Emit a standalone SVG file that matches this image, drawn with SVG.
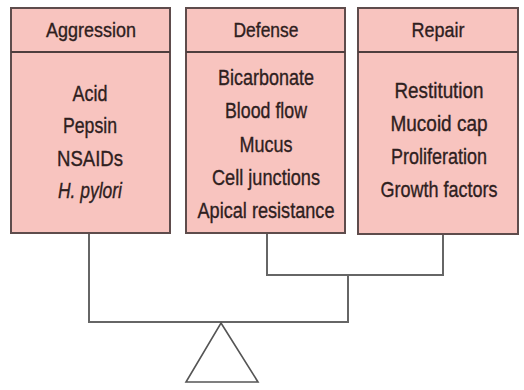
<svg xmlns="http://www.w3.org/2000/svg" width="524" height="390" viewBox="0 0 524 390">
<style>
.box{fill:#f8c4bf;stroke:#5e4c4c;stroke-width:2}
.div{stroke:#4e3e3e;stroke-width:2}
text{font-family:"Liberation Sans Narrow","Liberation Sans",Arial,sans-serif;fill:#2e2020;stroke:#2e2020;stroke-width:0.35;text-anchor:middle}
.h{font-size:21px}
.b{font-size:22px}
.conn{fill:none;stroke:#666;stroke-width:2}
.tri{fill:#fff;stroke:#555;stroke-width:1.6}
</style>
<rect width="524" height="390" fill="#fff"/>
<g id="aggression">
<rect class="box" x="11" y="8" width="159" height="225"/>
<line class="div" x1="11" y1="52" x2="170" y2="52"/>
<text class="h" x="91" y="37" textLength="90" lengthAdjust="spacingAndGlyphs">Aggression</text>
<text class="b" x="90" y="101" textLength="35" lengthAdjust="spacingAndGlyphs">Acid</text>
<text class="b" x="90" y="133" textLength="54" lengthAdjust="spacingAndGlyphs">Pepsin</text>
<text class="b" x="90" y="166" textLength="66" lengthAdjust="spacingAndGlyphs">NSAIDs</text>
<text class="b" x="90" y="198" textLength="64" lengthAdjust="spacingAndGlyphs" font-style="italic">H. pylori</text>
</g>
<g id="defense">
<rect class="box" x="186" y="8" width="159" height="225"/>
<line class="div" x1="186" y1="52" x2="345" y2="52"/>
<text class="h" x="266" y="37" textLength="65" lengthAdjust="spacingAndGlyphs">Defense</text>
<text class="b" x="266" y="85" textLength="96" lengthAdjust="spacingAndGlyphs">Bicarbonate</text>
<text class="b" x="266" y="118" textLength="82" lengthAdjust="spacingAndGlyphs">Blood flow</text>
<text class="b" x="266" y="152" textLength="53" lengthAdjust="spacingAndGlyphs">Mucus</text>
<text class="b" x="266" y="185" textLength="108" lengthAdjust="spacingAndGlyphs">Cell junctions</text>
<text class="b" x="266" y="218" textLength="137" lengthAdjust="spacingAndGlyphs">Apical resistance</text>
</g>
<g id="repair">
<rect class="box" x="358" y="8" width="160" height="226"/>
<line class="div" x1="358" y1="52" x2="518" y2="52"/>
<text class="h" x="438" y="37" textLength="53" lengthAdjust="spacingAndGlyphs">Repair</text>
<text class="b" x="439" y="98" textLength="89" lengthAdjust="spacingAndGlyphs">Restitution</text>
<text class="b" x="439" y="131" textLength="97" lengthAdjust="spacingAndGlyphs">Mucoid cap</text>
<text class="b" x="439" y="164" textLength="96" lengthAdjust="spacingAndGlyphs">Proliferation</text>
<text class="b" x="439" y="197" textLength="117" lengthAdjust="spacingAndGlyphs">Growth factors</text>
</g>
<g id="connectors">
<path class="conn" d="M267 234 V275 H443 V235"/>
<path class="conn" d="M89 234 V322 H348 V275"/>
</g>
<g id="fulcrum">
<polygon class="tri" points="221,323 258,382 186,382"/>
</g>
</svg>
